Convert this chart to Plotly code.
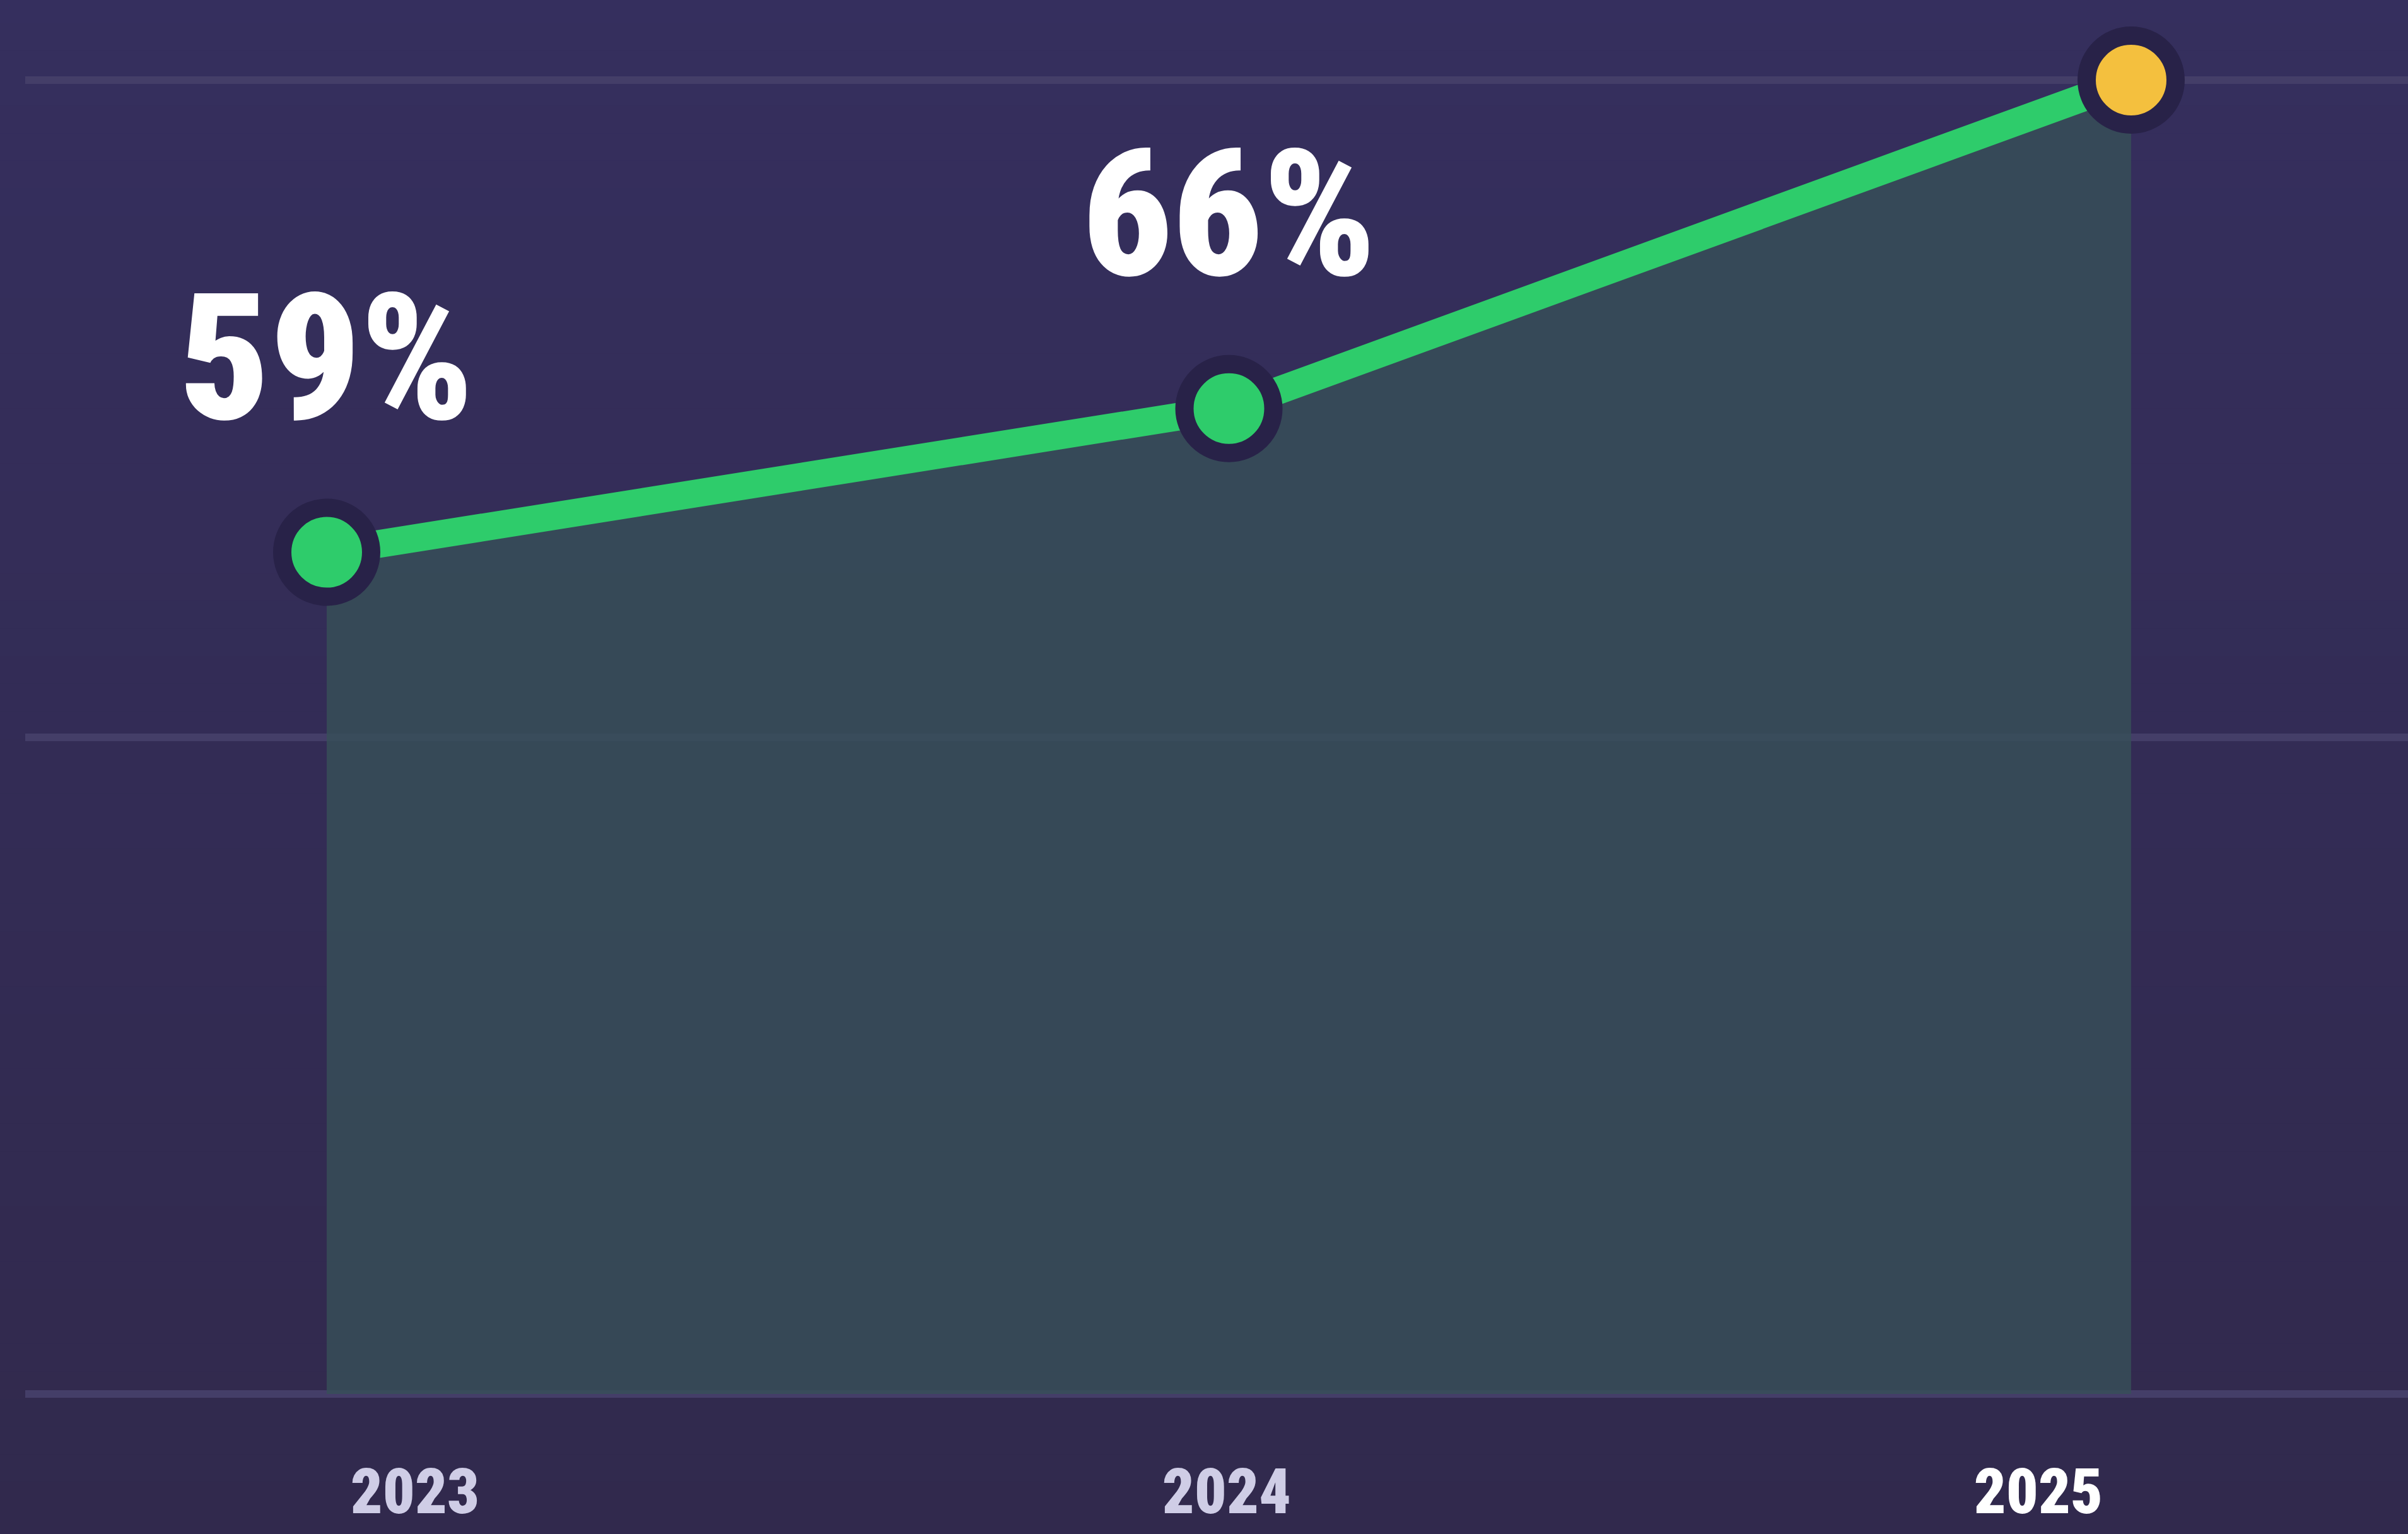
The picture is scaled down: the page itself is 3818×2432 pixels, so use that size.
import plotly.graph_objects as go

# ---- data ----
YEARS = ["2023", "2024", "2025"]
VALUES = [59, 66, 82]          # share (%) per year; 2025 value estimated (no label shown)
GRID_VALUES = [18, 50, 82]     # horizontal reference lines
LABELLED = [True, True, False]   # which points carry a big % label

W, H = 3818, 2432
xs = list(range(len(YEARS)))

BG_TOP = (53, 47, 94)
BG_BOT = (49, 41, 76)
GREEN = "#2ecc6b"
YELLOW = "#f4c03e"
RING = "#282248"
GRID = "#443e68"
FILL = "rgba(55,79,88,0.82)"
FONT = "Liberation Sans Narrow, Roboto Condensed, DejaVu Sans Condensed, sans-serif"

fig = go.Figure()

# baseline (bottom gridline) for the area fill
fig.add_trace(go.Scatter(x=xs, y=[GRID_VALUES[0]] * len(xs), mode="lines",
                         line=dict(width=0, color="rgba(0,0,0,0)"),
                         hoverinfo="skip", showlegend=False))
# area
fig.add_trace(go.Scatter(x=xs, y=VALUES, mode="lines", line=dict(width=0, color="rgba(0,0,0,0)"),
                         fill="tonexty", fillcolor=FILL, hoverinfo="skip", showlegend=False))
# line + markers
marker_colors = [GREEN] * (len(xs) - 1) + [YELLOW]
fig.add_trace(go.Scatter(x=xs, y=VALUES, mode="lines+markers",
                         line=dict(color=GREEN, width=44),
                         marker=dict(size=141, color=marker_colors,
                                     line=dict(color=RING, width=29)),
                         cliponaxis=False, showlegend=False))
# invisible trace on the label axis
fig.add_trace(go.Scatter(x=xs, y=VALUES, xaxis="x2", mode="markers",
                         marker=dict(opacity=0), hoverinfo="skip", showlegend=False))

# big percentage labels
for x, v, show in zip(xs, VALUES, LABELLED):
    if show:
        fig.add_annotation(x=x, y=v, xref="x", yref="y", text=f"{v}%",
                           showarrow=False, yanchor="bottom", yshift=142,
                           font=dict(family=FONT, size=280, color="white", weight=900))

# background gradient bands (cover the whole page)
N = 60
shapes = []
ylo, yhi = -0.12, 1.02
for i in range(N):
    t = i / (N - 1)
    c = tuple(round(BG_TOP[k] + (BG_BOT[k] - BG_TOP[k]) * t) for k in range(3))
    a = yhi - (yhi - ylo) * i / N
    b = yhi - (yhi - ylo) * (i + 1) / N
    shapes.append(dict(type="rect", xref="paper", yref="paper", layer="below",
                       x0=-0.05, x1=1.05, y0=b - 0.002, y1=a + 0.002,
                       fillcolor=f"rgb{c}", line=dict(width=0)))

tick_colors = ["#cfcde6"] * (len(YEARS) - 1) + ["#ffffff"]
ticktext = [f"<span style='color:{c}'>{y}</span>" for y, c in zip(YEARS, tick_colors)]

margin_l, margin_b = 40, 136
plot_w = W - margin_l
plot_h = H - margin_b
ppx = 1430.5          # px per x unit (points)
ppx2 = 1287.0         # px per x unit (labels)
x0 = -(518 - margin_l) / ppx
x2_0 = -(658 - margin_l) / ppx2
ppy = (2210 - 127) / (GRID_VALUES[-1] - GRID_VALUES[0])
y1 = GRID_VALUES[-1] + 127 / ppy
y0 = y1 - plot_h / ppy

fig.update_layout(
    width=W, height=H,
    margin=dict(l=margin_l, r=0, t=0, b=margin_b, autoexpand=False),
    paper_bgcolor="rgb(50,44,84)",
    plot_bgcolor="rgba(0,0,0,0)",
    shapes=shapes,
    showlegend=False,
    xaxis=dict(range=[x0, x0 + plot_w / ppx], visible=False, showgrid=False, zeroline=False,
               automargin=False),
    xaxis2=dict(range=[x2_0, x2_0 + plot_w / ppx2], overlaying="x", side="bottom", anchor="y",
                tickmode="array", tickvals=xs, ticktext=ticktext, showgrid=False,
                zeroline=False, showline=False, ticks="", ticklabelstandoff=2,
                automargin=False,
                tickfont=dict(family=FONT, size=100, color="#cfcde6", weight=900)),
    yaxis=dict(range=[y0, y1], tickmode="array", tickvals=GRID_VALUES, showticklabels=False,
               showgrid=True, gridcolor=GRID, gridwidth=12, zeroline=False, showline=False,
               ticks="", automargin=False),
)

fig.write_html("out.html", config={"displayModeBar": False},
               post_script="document.body.style.margin='0';")
